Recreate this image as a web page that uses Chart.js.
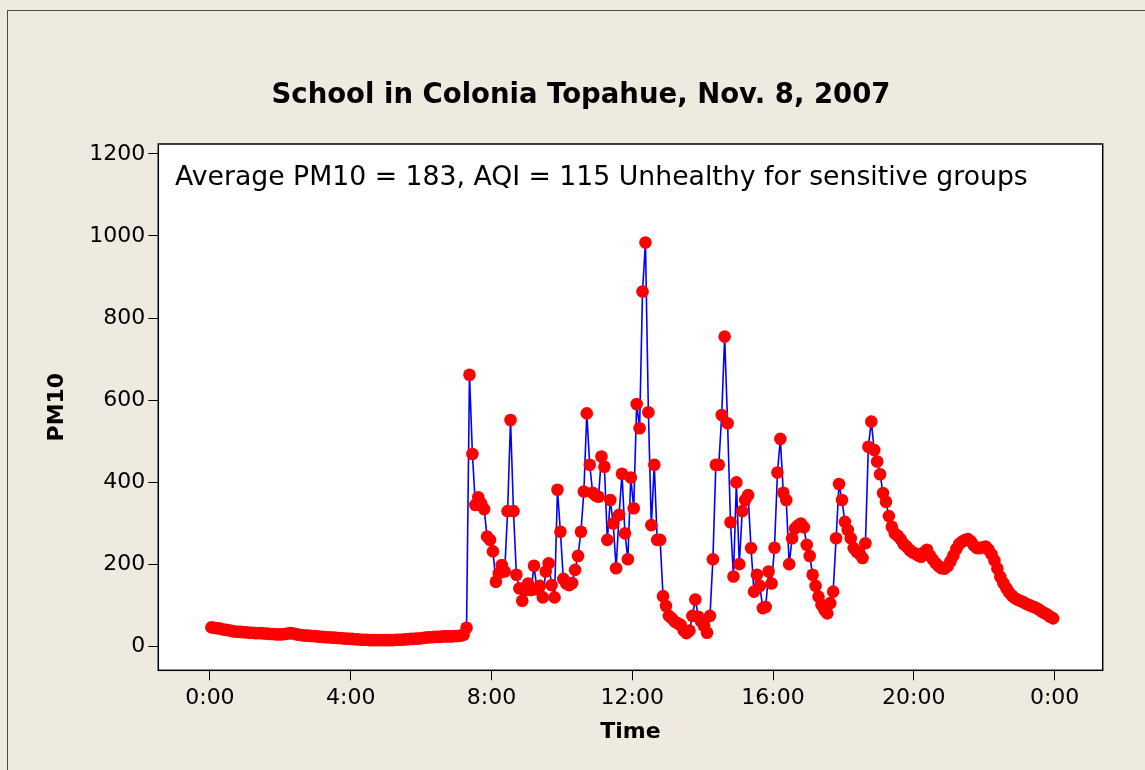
<!DOCTYPE html>
<html>
<head>
<meta charset="utf-8">
<script src="https://cdn.jsdelivr.net/npm/chart.js@4/dist/chart.umd.min.js"></script>
<style>
  html, body { margin: 0; padding: 0; background: #eeeae0; }
  canvas { display: block; }
</style>
</head>
<body>
<canvas id="pmChart" width="1145" height="770"></canvas>
<script>
// readings every 5 minutes, first one at 0:02:30
const sampleStartMin = 2.5;
const sampleStepMin = 5;

const pm10 = [
    47, 46, 45, 44, 42, 41, 40, 38, 37, 36,
    36, 35, 35, 34, 34, 33, 33, 33, 32, 32,
    31, 31, 30, 30, 30, 31, 32, 33, 32, 30,
    29, 28, 27, 27, 26, 26, 25, 24, 24, 23,
    23, 22, 22, 21, 21, 20, 20, 19, 19, 18,
    18, 17, 17, 17, 16, 16, 16, 16, 16, 16,
    16, 16, 16, 17, 17, 17, 18, 18, 19, 19,
    20, 20, 21, 22, 23, 23, 24, 24, 24, 25,
    25, 25, 25, 26, 26, 27, 29, 46,
    662, 469, 345, 364, 349, 335, 268, 260, 232, 158,
    179, 199, 183, 330, 552, 330, 175, 142, 112, 138,
    154, 138, 197, 140, 148, 120, 183, 203, 150, 120,
    382, 280, 165, 154, 150, 155, 187, 221, 280, 378,
    568, 443, 375, 368, 365, 463, 438, 260, 357, 300,
    191, 321, 421, 276, 213, 412, 337, 591, 532, 865,
    984, 571, 296, 443, 260, 260, 123, 99, 75, 69,
    61, 57, 53, 40, 33, 39, 75, 115, 73, 61,
    50, 34, 75, 213, 443, 443, 564, 755, 544, 303,
    171, 400, 201, 330, 357, 369, 240, 134, 175, 148,
    94, 97, 183, 154, 241, 424, 506, 375, 357, 201,
    264, 288, 295, 300, 291, 248, 221, 175, 148, 122,
    102, 90, 81, 106, 134, 264, 396, 357, 304, 284,
    264, 240, 231, 226, 216, 252, 487, 548, 479, 451,
    420, 374, 353, 318,
    292, 276, 270, 262, 250, 244, 236, 230, 227, 222,
    219, 230, 236, 222, 212, 203, 196, 191, 190, 196,
    208, 222, 238, 250, 256, 260, 262, 256, 246, 240,
    240, 242, 244, 236, 225, 210, 190, 170, 155, 143,
    132, 124, 118, 114, 111, 108, 104, 101, 98, 95,
    91, 86, 82, 78, 73, 69
];

const xTickMinutes = [0, 240, 480, 720, 960, 1200, 1440];
const yTickValues = [0, 200, 400, 600, 800, 1000, 1200];

const chartTitle = "School in Colonia Topahue, Nov. 8, 2007";
const noteText = "Average PM10 = 183, AQI = 115 Unhealthy for sensitive groups";
const xTitle = "Time";
const yTitle = "PM10";

const points = pm10.map((v, i) => ({ x: sampleStartMin + i * sampleStepMin, y: v }));

function fittedFont(ctx, text, weight, family, width) {
    ctx.font = weight + " 20px " + family;
    const size = 20 * width / ctx.measureText(text).width;
    return weight + " " + size.toFixed(2) + "px " + family;
}

const frame = {
    id: "frame",
    beforeDraw(chart) {
        const c = chart.ctx;
        const a = chart.chartArea;
        c.save();
        c.fillStyle = "#eeeae0";
        c.fillRect(0, 0, chart.width, chart.height);
        c.strokeStyle = "#4a4a4a";
        c.lineWidth = 1;
        c.strokeRect(7.5, 10.5, 1300, 900);
        c.fillStyle = "#ffffff";
        c.fillRect(a.left, a.top, a.right - a.left, a.bottom - a.top);
        c.restore();
    },
    afterDraw(chart) {
        const c = chart.ctx;
        const a = chart.chartArea;
        c.save();
        c.strokeStyle = "#000000";
        c.lineWidth = 1.5;
        c.strokeRect(a.left, a.top, a.right - a.left, a.bottom - a.top);

        c.fillStyle = "#000000";
        c.textBaseline = "middle";
        c.textAlign = "center";
        c.font = fittedFont(c, chartTitle, "bold", "'DejaVu Sans'", 619);
        c.fillText(chartTitle, 581, 96);

        c.textAlign = "left";
        c.font = fittedFont(c, noteText, "normal", "'DejaVu Sans'", 853);
        c.fillText(noteText, 175, 178);
        c.restore();
    }
};

const ctx = document.getElementById("pmChart").getContext("2d");

new Chart(ctx, {
    type: "line",
    data: {
        datasets: [{
            data: points,
            borderColor: "#0000ff",
            borderWidth: 1.6,
            pointRadius: 6.3,
            pointBorderWidth: 0,
            pointBackgroundColor: "#ff0000",
            pointBorderColor: "#ff0000",
            tension: 0
        }]
    },
    options: {
        responsive: false,
        animation: false,
        layout: {
            padding: { top: 144, right: 42.3, left: 0, bottom: 0 }
        },
        plugins: {
            legend: { display: false },
            tooltip: { enabled: false },
            title: { display: false }
        },
        scales: {
            x: {
                type: "linear",
                min: -88,
                max: 1522,
                afterFit: s => { s.height = 99.7; },
                afterBuildTicks: s => { s.ticks = xTickMinutes.map(v => ({ value: v })); },
                grid: { drawOnChartArea: false, tickLength: 10, color: "#000", tickWidth: 1 },
                border: { display: false },
                ticks: {
                    color: "#000",
                    padding: 5,
                    maxRotation: 0,
                    font: { family: "'DejaVu Sans'", size: 22 },
                    callback: v => ((v / 60) % 24) + ":00"
                },
                title: {
                    display: true,
                    text: xTitle,
                    color: "#000",
                    font: { family: "'DejaVu Sans'", size: 22, weight: "bold" },
                    padding: { top: 0, bottom: 24.8 }
                }
            },
            y: {
                min: -57.5,
                max: 1224,
                afterFit: s => { s.width = 158.3; },
                afterBuildTicks: s => { s.ticks = yTickValues.map(v => ({ value: v })); },
                grid: { drawOnChartArea: false, tickLength: 10, color: "#000", tickWidth: 1 },
                border: { display: false },
                ticks: {
                    color: "#000",
                    padding: 3,
                    font: { family: "'DejaVu Sans'", size: 22 },
                    callback: v => String(v)
                },
                title: {
                    display: true,
                    text: yTitle,
                    color: "#000",
                    font: { family: "'DejaVu Sans'", size: 22, weight: "bold" },
                    padding: { top: 43.8, bottom: 0 }
                }
            }
        }
    },
    plugins: [frame]
});
</script>
</body>
</html>
